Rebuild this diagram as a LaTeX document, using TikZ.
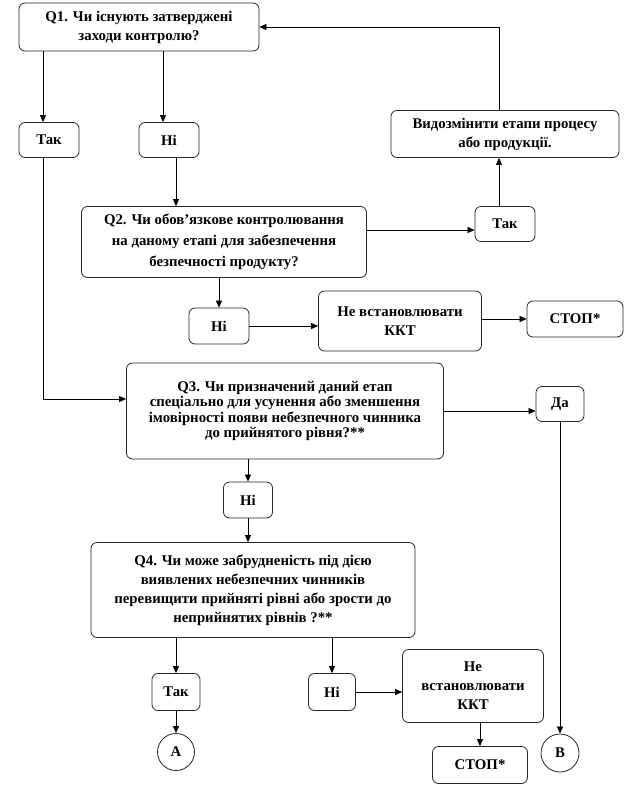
\documentclass[tikz,border=0pt]{standalone}
\usepackage{fontspec}
\setmainfont{Liberation Serif}
\usetikzlibrary{arrows.meta}

\begin{document}
\begin{tikzpicture}[x=1pt,y=-1pt,
    qbox/.style={draw=black!85,line width=0.8pt,rounded corners=6pt,align=center,
      font=\fontsize{14.8}{19}\selectfont\bfseries,inner sep=2pt},
    ansbox/.style={qbox,minimum width=60pt,minimum height=35pt},
    endpoint/.style={draw=black!85,line width=0.8pt,circle,minimum size=37pt,
      inner sep=0pt,font=\fontsize{14.8}{19}\selectfont\bfseries},
    flow/.style={-{Triangle[length=7pt,width=6pt]},line width=0.7pt}
  ]
    \useasboundingbox (0,0) rectangle (628,787);
    \node[qbox,minimum width=240pt,minimum height=48pt] (q1) at (139,27)
      {Q1. Чи існують затверджені\\заходи контролю?};
    \node[ansbox] (tak1) at (49,140) {Так};
    \node[ansbox] (ni1) at (169,140) {Ні};
    \node[qbox,minimum width=228pt,minimum height=47pt] (modify) at (505,134)
      {Видозмінити етапи процесу\\або продукції.};
    \node[qbox,minimum width=285pt,minimum height=71pt,
      font=\fontsize{14.8}{21}\selectfont\bfseries] (q2) at (224,242)
      {Q2. Чи обов’язкове контролювання\\на даному етапі для забезпечення\\безпечності продукту?};
    \node[ansbox] (tak2) at (505,224) {Так};
    \node[ansbox,minimum height=36pt] (ni2) at (219,326) {Ні};
    \node[qbox,minimum width=163pt,minimum height=60pt] (nokkt1) at (400,321)
      {Не встановлювати\\ККТ};
    \node[qbox,minimum width=96pt,minimum height=36pt] (stop1) at (575,319) {СТОП*};
    \node[qbox,minimum width=317pt,minimum height=96pt,
      font=\fontsize{14.8}{15.5}\selectfont\bfseries] (q3) at (285,411)
      {Q3. Чи призначений даний етап\\спеціально для усунення або зменшення\\імовірності появи небезпечного чинника\\до прийнятого рівня?**};
    \node[ansbox,minimum width=48pt] (da) at (560,404) {Да};
    \node[ansbox,minimum width=49pt,minimum height=36pt] (ni3) at (248,500) {Ні};
    \node[qbox,minimum width=324pt,minimum height=95pt] (q4) at (253,590)
      {Q4. Чи може забрудненість під дією\\виявлених небезпечних чинників\\перевищити прийняті рівні або зрости до\\неприйнятих рівнів ?**};
    \node[ansbox,minimum width=48pt,minimum height=37pt] (tak4) at (176,692) {Так};
    \node[ansbox,minimum width=47pt,minimum height=37pt] (ni4) at (332,692) {Ні};
    \node[qbox,minimum width=141pt,minimum height=73pt] (nokkt2) at (473,686)
      {Не\\встановлювати\\ККТ};
    \node[qbox,minimum width=95pt,minimum height=37pt] (stop2) at (480,765) {СТОП*};
    \node[endpoint] (pa) at (176,752) {A};
    \node[endpoint,minimum size=38pt] (pb) at (560,753) {B};
    \draw[flow] ([xshift=-6pt]tak1.north |- q1.south) -- ([xshift=-6pt]tak1.north);
    \draw[flow] ([xshift=-6pt]ni1.north |- q1.south) -- ([xshift=-6pt]ni1.north);
    \draw[flow] ([xshift=7pt]ni1.south) -- ([xshift=7pt]ni1.south |- q2.north);
    \draw[flow] ([xshift=-6pt]tak1.south) |- ([yshift=12pt]q3.west);
    \draw[flow] ([yshift=12pt]q2.east) -- ([yshift=12pt]q2.east -| tak2.west);
    \draw[flow] ([xshift=-6pt]tak2.north) -- ([xshift=-6pt]modify.south);
    \draw[flow] ([xshift=-6pt]modify.north) |- (q1.east);
    \draw[flow] (q2.south -| ni2) -- (ni2.north);
    \draw[flow] (ni2.east) -- (ni2 -| nokkt1.west);
    \draw[flow] (nokkt1.east |- stop1) -- (stop1.west);
    \draw[flow] (q3.east) -- (q3.east -| da.west);
    \draw[flow] (da.south) -- (pb.north);
    \draw[flow] (q3.south -| ni3) -- (ni3.north);
    \draw[flow] (ni3.south) -- (ni3 |- q4.north);
    \draw[flow] (q4.south -| tak4) -- (tak4.north);
    \draw[flow] (q4.south -| ni4) -- (ni4.north);
    \draw[flow] (tak4.south) -- (pa.north);
    \draw[flow] (ni4.east) -- (ni4 -| nokkt2.west);
    \draw[flow] (nokkt2.south -| stop2) -- (stop2.north);
\end{tikzpicture}
\end{document}
